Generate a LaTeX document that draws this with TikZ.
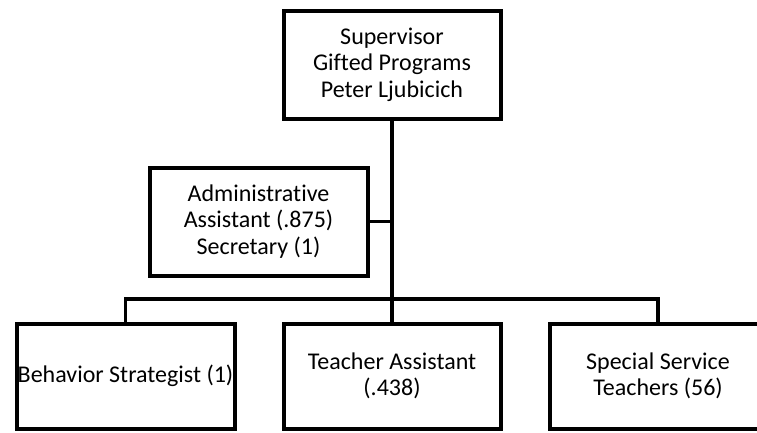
\documentclass[tikz,border=0pt]{standalone}
\usepackage{fontspec}
\setmainfont{Carlito}[Ligatures=NoCommon]
\begin{document}
\begin{tikzpicture}[x=1pt,y=-1pt,
  box/.style={draw, line width=4pt, align=center, inner sep=0pt,
    font=\fontsize{24}{26.5}\selectfont},
  conn/.style={line width=3.8pt, line join=miter}]
\useasboundingbox (0,0) rectangle (757,432);
\node[box, minimum width=217pt, minimum height=108pt] (sup) at (392,64.5)
  {Supervisor\\Gifted Programs\\Peter Ljubicich};
\node[box, minimum width=218pt, minimum height=108pt] (adm) at (258.5,221.5)
  {Administrative\\Assistant (.875)\\Secretary (1)};
\node[box, minimum width=218pt, minimum height=105pt] (beh) at (125.5,376)
  {Behavior Strategist (1)};
\node[box, minimum width=217pt, minimum height=105pt] (ta) at (392,376)
  {Teacher Assistant\\(.438)};
\node[box, minimum width=217pt, minimum height=105pt] (spc) at (658,376)
  {Special Service\\Teachers (56)};
\coordinate (j) at (392,299);
\draw[conn] (sup.south) -- (ta.north);
\draw[conn] (adm.east) -- (sup.south |- adm.east);
\draw[conn] (beh.north) -- (beh.north |- j) -- (spc.north |- j) -- (spc.north);
\end{tikzpicture}
\end{document}
